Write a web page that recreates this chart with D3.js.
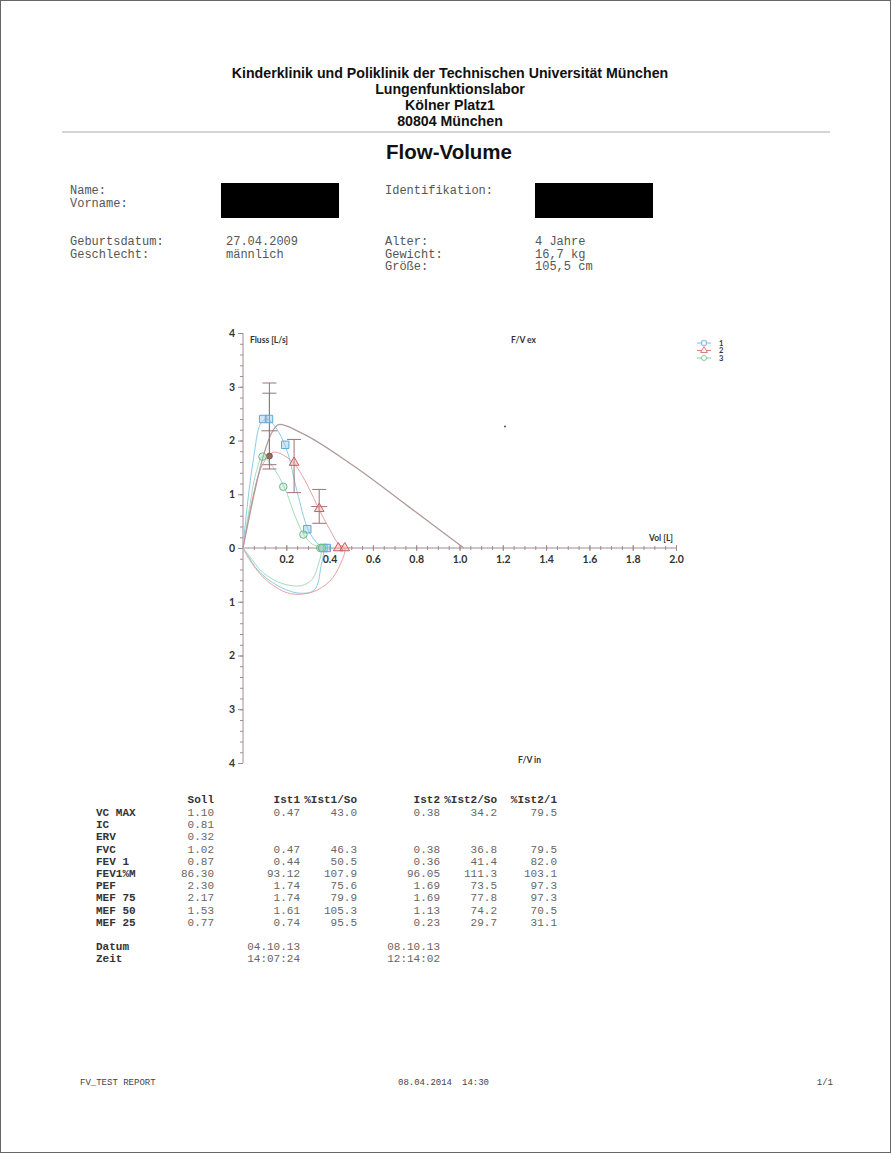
<!DOCTYPE html>
<html>
<head>
<meta charset="utf-8">
<script src="https://cdn.jsdelivr.net/npm/d3@7/dist/d3.min.js"></script>
<style>
  html, body { margin: 0; padding: 0; background: #fff; }
  svg { display: block; }
  .hdr { font-family: "Liberation Sans", Arial, sans-serif; font-weight: bold; fill: #111; }
  .mono { font-family: "Liberation Mono", "Courier New", monospace; }
  .ax { font-family: Lato, "Open Sans", sans-serif; font-weight: bold; fill: #333; }
</style>
</head>
<body>
<svg id="page" width="891" height="1153"></svg>
<script>
// ---- report text ----
const headerLines = [
  "Kinderklinik und Poliklinik der Technischen Universität München",
  "Lungenfunktionslabor",
  "Kölner Platz1",
  "80804 München"
];
const reportTitle = "Flow-Volume";
const patientLeftLabels = ["Name:", "Vorname:"];
const patientRightLabels = ["Identifikation:"];
const personLabels = ["Geburtsdatum:", "Geschlecht:"];
const personValues = ["27.04.2009", "männlich"];
const bodyLabels = ["Alter:", "Gewicht:", "Größe:"];
const bodyValues = ["4 Jahre", "16,7 kg", "105,5 cm"];

// ---- chart axes ----
const volTicks = [0.2, 0.4, 0.6, 0.8, 1.0, 1.2, 1.4, 1.6, 1.8, 2.0];
const flowTicks = [4, 3, 2, 1, 0, -1, -2, -3, -4];
const legendLabels = ["1", "2", "3"];

// predicted expiratory curve (volume L, flow L/s)
const predVol  = [0, 0.17, 0.255, 0.51, 0.765, 1.02];
const predFlow = [0, 2.30, 2.17, 1.53, 0.77, 0];

// measured loops, trials 1-3 (expiration above, inspiration below the axis)
const trial1Vol  = [0, 0.02, 0.05, 0.08, 0.11, 0.15, 0.20, 0.25, 0.30, 0.34, 0.37, 0.36, 0.33, 0.26, 0.16, 0.07, 0.02, 0];
const trial1Flow = [0, 0.80, 1.70, 2.30, 2.40, 2.25, 1.85, 1.05, 0.35, 0.10, 0, -0.35, -0.78, -0.84, -0.70, -0.42, -0.12, 0];
const trial2Vol  = [0, 0.04, 0.09, 0.14, 0.19, 0.24, 0.30, 0.35, 0.40, 0.44, 0.47, 0.45, 0.40, 0.32, 0.22, 0.12, 0.04, 0];
const trial2Flow = [0, 0.85, 1.55, 1.78, 1.72, 1.55, 1.15, 0.73, 0.35, 0.08, 0, -0.30, -0.62, -0.82, -0.85, -0.64, -0.28, 0];
const trial3Vol  = [0, 0.03, 0.06, 0.09, 0.13, 0.19, 0.24, 0.28, 0.32, 0.36, 0.35, 0.32, 0.27, 0.18, 0.09, 0.03, 0];
const trial3Flow = [0, 0.75, 1.40, 1.70, 1.55, 1.14, 0.60, 0.25, 0.07, 0, -0.28, -0.58, -0.70, -0.66, -0.45, -0.15, 0];

// markers per trial
const trial1MarkVol  = [0.093, 0.12, 0.195, 0.297, 0.372, 0.387];
const trial1MarkFlow = [2.40, 2.40, 1.92, 0.35, 0, 0];
const trial2MarkVol  = [0.236, 0.352, 0.44, 0.47];
const trial2MarkFlow = [1.59, 0.73, 0, 0];
const trial3MarkVol  = [0.09, 0.186, 0.279, 0.357, 0.365];
const trial3MarkFlow = [1.70, 1.14, 0.25, 0, 0];

// reference ranges drawn as error bars
const rangeVol  = [0.122, 0.122, 0.236, 0.352];
const rangeLow  = [1.47, 1.55, 1.03, 0.46];
const rangeHigh = [3.07, 2.88, 2.02, 1.09];
const rangeMidVol  = [0.122, 0.352];
const rangeMidFlow = [2.18, 0.77];
const peakDotVol = [0.122];
const peakDotFlow = [1.71];
const strayVol = [1.21];
const strayFlow = [2.26];

// ---- results table ----
const tableHeads = ["Soll", "Ist1", "%Ist1/So", "Ist2", "%Ist2/So", "%Ist2/1"];
const rowLabels = ["VC MAX", "IC", "ERV", "FVC", "FEV 1", "FEV1%M", "PEF", "MEF 75", "MEF 50", "MEF 25"];
const sollValues  = ["1.10", "0.81", "0.32", "1.02", "0.87", "86.30", "2.30", "2.17", "1.53", "0.77"];
const ist1Values  = ["0.47", "", "", "0.47", "0.44", "93.12", "1.74", "1.74", "1.61", "0.74"];
const pIst1Values = ["43.0", "", "", "46.3", "50.5", "107.9", "75.6", "79.9", "105.3", "95.5"];
const ist2Values  = ["0.38", "", "", "0.38", "0.36", "96.05", "1.69", "1.69", "1.13", "0.23"];
const pIst2Values = ["34.2", "", "", "36.8", "41.4", "111.3", "73.5", "77.8", "74.2", "29.7"];
const pIst21Values = ["79.5", "", "", "79.5", "82.0", "103.1", "97.3", "97.3", "70.5", "31.1"];
const sessionLabels = ["Datum", "Zeit"];
const session1 = ["04.10.13", "14:07:24"];
const session2 = ["08.10.13", "12:14:02"];
const footerLeft = "FV_TEST REPORT";
const footerDate = "08.04.2014";
const footerTime = "14:30";
const footerPage = "1/1";

// =====================================================================
const svg = d3.select("#page");

svg.append("rect").attr("x", 0.5).attr("y", 0.5).attr("width", 890).attr("height", 1152)
  .attr("fill", "#fff").attr("stroke", "#666").attr("stroke-width", 1);

// header block
const hdrY = [78, 94, 110, 126];
svg.selectAll("text.h").data(headerLines).join("text")
  .attr("class", "hdr h").attr("x", 450).attr("y", (d, i) => hdrY[i])
  .attr("text-anchor", "middle").attr("font-size", 14.2).text(d => d);

svg.append("line").attr("x1", 62).attr("x2", 830).attr("y1", 132).attr("y2", 132)
  .attr("stroke", "#a9a9a9").attr("stroke-width", 1.2);

svg.append("text").attr("class", "hdr").attr("x", 449).attr("y", 159)
  .attr("text-anchor", "middle").attr("font-size", 20.5).text(reportTitle);

// patient data
const infoCol = "#555";
function monoBlock(lines, x, y0, step) {
  svg.append("g").selectAll("text").data(lines).join("text")
    .attr("class", "mono").attr("x", x).attr("y", (d, i) => y0 + i * step)
    .attr("font-size", 12).attr("fill", infoCol).text(d => d);
}
monoBlock(patientLeftLabels, 70, 194, 13);
monoBlock(patientRightLabels, 385, 194, 13);
monoBlock(personLabels, 70, 245, 12.5);
monoBlock(personValues, 226, 245, 12.5);
monoBlock(bodyLabels, 385, 245, 12.5);
monoBlock(bodyValues, 535, 245, 12.5);

svg.append("rect").attr("x", 221).attr("y", 183).attr("width", 118).attr("height", 35).attr("fill", "#000");
svg.append("rect").attr("x", 535).attr("y", 183).attr("width", 118).attr("height", 35).attr("fill", "#000");

// ---- flow-volume chart ----
const x = d3.scaleLinear().domain([0, 2]).range([243, 676]);
const y = d3.scaleLinear().domain([-4, 4]).range([763, 333]);
const axisCol = "#a28a90";
const chart = svg.append("g");

// y axis with minor ticks
const yMinor = d3.range(-4, 4.001, 0.2);
chart.append("g").attr("transform", `translate(${x(0)},0)`)
  .call(d3.axisLeft(y).tickValues(yMinor).tickSize(3).tickFormat(""))
  .call(g => { g.select(".domain").remove(); g.selectAll("line").attr("stroke", axisCol); });
chart.append("g").attr("transform", `translate(${x(0)},0)`)
  .call(d3.axisLeft(y).tickValues(flowTicks).tickSize(5).tickPadding(3).tickFormat(d => Math.abs(d)))
  .call(g => {
    g.select(".domain").attr("stroke", axisCol).attr("d", `M0,${y(4)}V${y(-4)}`);
    g.selectAll("line").attr("stroke", axisCol);
    g.selectAll("text").attr("class", "ax").attr("font-size", 10.5).attr("fill", "#333");
  });

// x axis with ticks crossing the line
const xMinor = d3.range(0, 2.0001, 0.05);
chart.append("g").attr("transform", `translate(0,${y(0)})`)
  .call(d3.axisBottom(x).tickValues(xMinor).tickSize(2).tickFormat(""))
  .call(g => {
    g.select(".domain").remove();
    g.selectAll("line").attr("y1", -2).attr("stroke", axisCol);
  });
chart.append("g").attr("transform", `translate(0,${y(0)})`)
  .call(d3.axisBottom(x).tickValues(volTicks).tickSize(3).tickPadding(5).tickFormat(d3.format(".1f")))
  .call(g => {
    g.select(".domain").attr("stroke", axisCol).attr("d", `M${x(0)},0H${x(2)}`);
    g.selectAll("line").attr("y1", -3).attr("stroke", axisCol);
    g.selectAll("text").attr("class", "ax").attr("font-size", 10.5).attr("fill", "#333");
  });

// axis titles
const axTitle = (t, tx, ty) => chart.append("text").attr("class", "ax")
  .attr("x", tx).attr("y", ty).attr("font-size", 8.5).attr("fill", "#333").text(t);
axTitle("Fluss [L/s]", 250, 343);
axTitle("F/V ex", 511, 343);
axTitle("Vol [L]", 649, 541);
axTitle("F/V in", 518, 763);

const line = d3.line().x(d => x(d[0])).y(d => y(d[1]));
const zip = (a, b) => a.map((v, i) => [v, b[i]]);

// measured loops
const loops = [
  { v: trial1Vol, f: trial1Flow, c: "#8ccbe8" },
  { v: trial2Vol, f: trial2Flow, c: "#e7a2a2" },
  { v: trial3Vol, f: trial3Flow, c: "#a6dcbf" }
];
chart.append("g").selectAll("path").data(loops).join("path")
  .attr("d", d => line.curve(d3.curveCatmullRom.alpha(0.5))(zip(d.v, d.f)))
  .attr("fill", "none").attr("stroke", d => d.c).attr("stroke-width", 1);

// predicted curve
chart.append("path")
  .attr("d", line.curve(d3.curveMonotoneX)(zip(predVol, predFlow)))
  .attr("fill", "none").attr("stroke", "#b09a9c").attr("stroke-width", 1.3);

// reference ranges
const rangeCol = "#9a7378";
const bars = chart.append("g").attr("stroke", rangeCol).attr("stroke-width", 1);
rangeVol.forEach((v, i) => {
  bars.append("line").attr("x1", x(v)).attr("x2", x(v)).attr("y1", y(rangeLow[i])).attr("y2", y(rangeHigh[i]));
  [rangeLow[i], rangeHigh[i]].forEach(f => bars.append("line")
    .attr("x1", x(v) - 7).attr("x2", x(v) + 7).attr("y1", y(f)).attr("y2", y(f)));
});
rangeMidVol.forEach((v, i) => bars.append("line")
  .attr("x1", x(v) - 8).attr("x2", x(v) + 8).attr("y1", y(rangeMidFlow[i])).attr("y2", y(rangeMidFlow[i])));
chart.append("g").selectAll("circle").data(zip(peakDotVol, peakDotFlow)).join("circle")
  .attr("cx", d => x(d[0])).attr("cy", d => y(d[1])).attr("r", 3)
  .attr("fill", "#a0685a").attr("stroke", "#6e4a40").attr("stroke-width", 0.8);
chart.append("g").selectAll("circle").data(zip(strayVol, strayFlow)).join("circle")
  .attr("cx", d => x(d[0])).attr("cy", d => y(d[1])).attr("r", 1).attr("fill", "#555");

// markers
const markSets = [
  { v: trial1MarkVol, f: trial1MarkFlow, type: d3.symbolSquare, size: 55, stroke: "#5fa9d6", fill: "rgba(150,200,235,0.45)" },
  { v: trial2MarkVol, f: trial2MarkFlow, type: d3.symbolTriangle, size: 40, stroke: "#d55a5a", fill: "rgba(240,170,170,0.45)" },
  { v: trial3MarkVol, f: trial3MarkFlow, type: d3.symbolCircle, size: 45, stroke: "#6dbb8e", fill: "rgba(170,220,190,0.4)" }
];
markSets.forEach(s => {
  chart.append("g").selectAll("path").data(zip(s.v, s.f)).join("path")
    .attr("transform", d => `translate(${x(d[0])},${y(d[1])})`)
    .attr("d", d3.symbol().type(s.type).size(s.size))
    .attr("fill", s.fill).attr("stroke", s.stroke).attr("stroke-width", 1);
});

// legend
const leg = chart.append("g");
legendLabels.forEach((lab, i) => {
  const ly = 343 + i * 7.5;
  const s = markSets[i];
  leg.append("line").attr("x1", 697).attr("x2", 711).attr("y1", ly).attr("y2", ly)
    .attr("stroke", s.stroke).attr("stroke-width", 0.8);
  leg.append("path").attr("transform", `translate(704,${ly})`)
    .attr("d", d3.symbol().type(s.type).size(20))
    .attr("fill", "#fff").attr("stroke", s.stroke).attr("stroke-width", 0.8);
  leg.append("text").attr("class", "ax").attr("x", 719).attr("y", ly + 2.8)
    .attr("font-size", 7.5).attr("fill", "#333").text(lab);
});

// ---- results table ----
const colRight = [214, 300, 357, 440, 497, 557];
const colData = [sollValues, ist1Values, pIst1Values, ist2Values, pIst2Values, pIst21Values];
const tbl = svg.append("g").attr("class", "mono").attr("font-size", 11);
const headY = 803, rowY0 = 816, rowStep = 12.2;
tbl.selectAll("text.head").data(tableHeads).join("text")
  .attr("class", "head").attr("x", (d, i) => colRight[i]).attr("y", headY)
  .attr("text-anchor", "end").attr("font-weight", "bold").attr("fill", "#333").text(d => d);
tbl.selectAll("text.rl").data(rowLabels).join("text")
  .attr("class", "rl").attr("x", 96).attr("y", (d, i) => rowY0 + i * rowStep)
  .attr("font-weight", "bold").attr("fill", "#333").text(d => d);
colData.forEach((col, c) => {
  tbl.append("g").selectAll("text").data(col).join("text")
    .attr("x", colRight[c]).attr("y", (d, i) => rowY0 + i * rowStep)
    .attr("text-anchor", "end").attr("fill", "#666").text(d => d);
});
const sesY = [950, 962];
tbl.selectAll("text.sl").data(sessionLabels).join("text")
  .attr("class", "sl").attr("x", 96).attr("y", (d, i) => sesY[i])
  .attr("font-weight", "bold").attr("fill", "#333").text(d => d);
[session1, session2].forEach((s, k) => {
  tbl.append("g").selectAll("text").data(s).join("text")
    .attr("x", colRight[k === 0 ? 1 : 3]).attr("y", (d, i) => sesY[i])
    .attr("text-anchor", "end").attr("fill", "#666").text(d => d);
});

// footer
const foot = svg.append("g").attr("class", "mono").attr("font-size", 9).attr("fill", "#444");
foot.append("text").attr("x", 80).attr("y", 1085).text(footerLeft);
foot.append("text").attr("x", 398).attr("y", 1085).text(footerDate);
foot.append("text").attr("x", 462).attr("y", 1085).text(footerTime);
foot.append("text").attr("x", 833).attr("y", 1085).attr("text-anchor", "end").text(footerPage);
</script>
</body>
</html>
